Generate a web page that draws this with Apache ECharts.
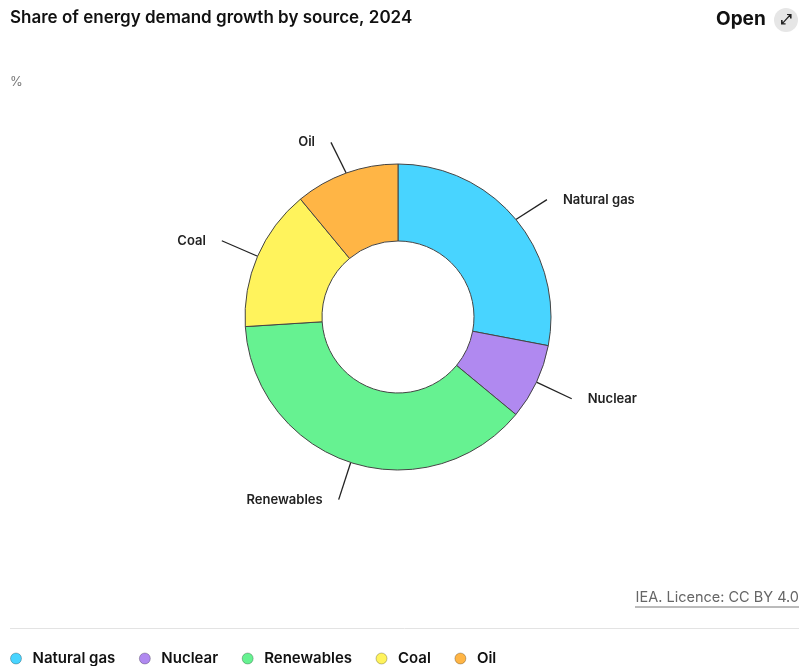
<!DOCTYPE html>
<html>
<head>
<meta charset="utf-8">
<script src="https://cdn.jsdelivr.net/npm/echarts@6/dist/echarts.min.js"></script>
<style>
  html, body { margin: 0; padding: 0; background: #fff; }
  #chart { width: 799px; height: 666px; }
</style>
</head>
<body>
<div id="chart"></div>
<script>
// Energy demand growth shares by source, 2024 (%)
const categories = ['Natural gas', 'Nuclear', 'Renewables', 'Coal', 'Oil'];
const shares = [28, 8, 38, 15, 11];
const colors = ['#48d4ff', '#b089f0', '#66f291', '#fff35c', '#ffb545'];

const FONT = 'Inter, "Noto Sans", sans-serif';

// small label nudges; the callout's outer end follows the label
const labelShift = { 'Natural gas': [1, 5], 'Oil': [-2, 6] };

const chart = echarts.init(document.getElementById('chart'), null, { renderer: 'canvas' });

chart.setOption({
  animation: false,
  color: colors,
  title: {
    text: 'Share of energy demand growth by source, 2024',
    left: 10,
    top: 9,
    padding: 0,
    textStyle: { fontFamily: FONT, fontSize: 17, fontWeight: 600, color: '#111' }
  },
  legend: {
    bottom: 0,
    left: 10,
    padding: [0, 0, 0, 0],
    icon: 'circle',
    itemWidth: 11,
    itemHeight: 11,
    itemGap: 23.5,
    data: categories,
    itemStyle: { borderColor: 'rgba(0,0,0,0.25)', borderWidth: 1 },
    textStyle: { fontFamily: FONT, fontSize: 15, fontWeight: 600, color: '#111', padding: [0, 0, 0, 6] }
  },
  graphic: [
    {
      type: 'text', left: 716, top: 10,
      style: { text: 'Open', font: '700 19px ' + FONT, fill: '#111' }
    },
    {
      type: 'circle', shape: { cx: 786, cy: 20, r: 12 },
      style: { fill: '#e6e6e6' }
    },
    {
      type: 'text', x: 786, y: 20,
      style: { text: '⤢', font: '700 14px "DejaVu Sans"', fill: '#222', align: 'center', verticalAlign: 'middle' }
    },
    {
      type: 'text', left: 10, top: 76,
      style: { text: '%', font: '13px ' + FONT, fill: '#777' }
    },
    {
      type: 'text', right: 0, top: 590,
      style: { text: 'IEA. Licence: CC BY 4.0', font: '14.5px ' + FONT, fill: '#666' }
    },
    {
      type: 'line', shape: { x1: 635, y1: 607, x2: 799, y2: 607 },
      style: { stroke: '#777', lineWidth: 1 }
    },
    {
      type: 'line', shape: { x1: 10, y1: 628.5, x2: 799, y2: 628.5 },
      style: { stroke: '#e3e3e3', lineWidth: 1 }
    }
  ],
  series: [{
    type: 'pie',
    center: [398, 317],
    radius: [76, 153],
    startAngle: 90,
    clockwise: true,
    avoidLabelOverlap: false,
    data: categories.map((name, i) => ({ name, value: shares[i] })),
    itemStyle: { borderColor: '#444', borderWidth: 1 },
    label: {
      show: true,
      formatter: '{b}',
      fontFamily: FONT,
      fontSize: 13,
      fontWeight: 600,
      color: '#222',
      distanceToLabelLine: 16
    },
    labelLine: {
      show: true,
      length: 39,
      length2: 0,
      lineStyle: { color: '#222', width: 1.3 }
    },
    labelLayout: function (params) {
      const s = labelShift[categories[params.dataIndex]];
      if (!s) return {};
      const pts = params.labelLinePoints;
      const moved = pts ? pts.map((p, i) => i === 0 ? [p[0], p[1]] : [p[0] + s[0], p[1] + s[1]]) : undefined;
      return { dx: s[0], dy: s[1], labelLinePoints: moved };
    },
    emphasis: { disabled: true }
  }]
});
</script>
</body>
</html>
